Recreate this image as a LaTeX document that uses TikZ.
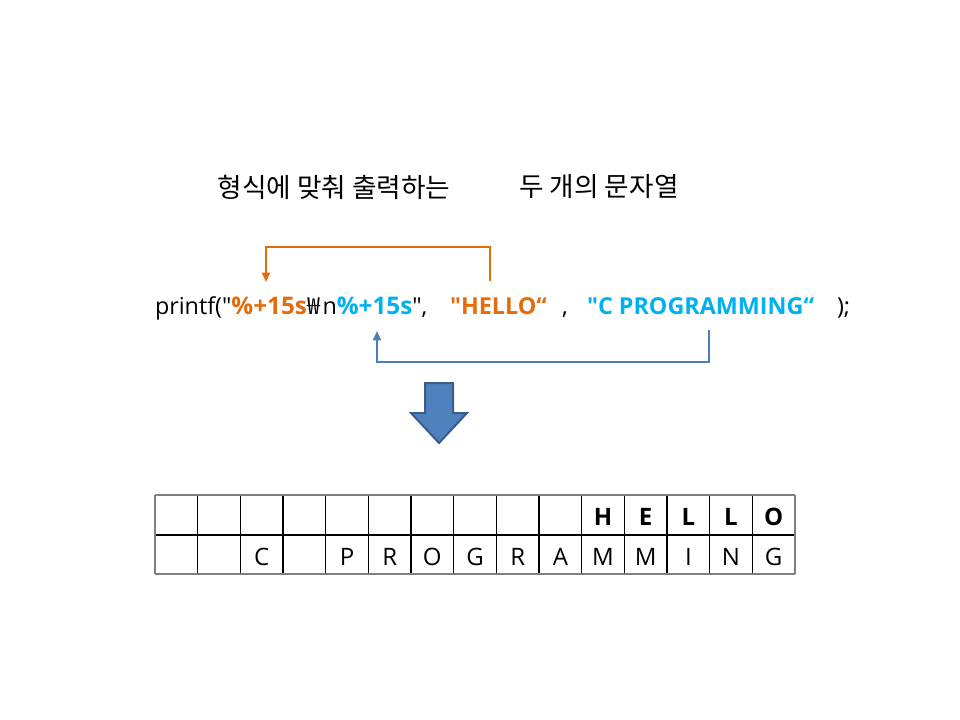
\documentclass[tikz,border=0pt]{standalone}
\usepackage{fontspec}
\setmainfont{Open Sans}[Ligatures=TeXOff]
\newfontfamily\kr{Noto Sans CJK KR}[Ligatures=TeXOff]
\usetikzlibrary{arrows.meta}
\definecolor{orangeT}{HTML}{E46C0A}
\definecolor{blueT}{HTML}{00B0F0}
\definecolor{blueL}{HTML}{4A7EBB}
\definecolor{arrFill}{HTML}{4F81BD}
\definecolor{arrLine}{HTML}{385D8A}
\definecolor{gridGray}{HTML}{7F7F7F}
\newcommand{\psz}{\fontsize{17.5}{21}\selectfont}
\newcommand{\bsz}{\fontsize{18.2}{21.8}\selectfont}
\begin{document}
\begin{tikzpicture}[x=0.75pt,y=-0.75pt,
  txt/.style={inner sep=0pt,outer sep=0pt,anchor=base west,font=\psz},
  ttl/.style={inner sep=0pt,anchor=center,font=\kr\fontsize{20}{24}\selectfont},
  cell/.style={inner sep=0pt,anchor=base,font=\fontsize{18}{21.6}\selectfont},
  oconn/.style={draw=orangeT,line width=1.5pt,-{Triangle[length=7pt,width=6pt]}},
  bconn/.style={draw=blueL,line width=1.5pt,-{Triangle[length=7pt,width=6pt]}},
  inner/.style={draw=black,line width=0.8pt},
  outer/.style={draw=gridGray,line width=1.6pt}]
\useasboundingbox (0,0) rectangle (960,720);

% titles
\node[ttl] (t1) at (334,187) {형식에 맞춰 출력하는};
\node[ttl] (t2) at (599,187) {두 개의 문자열};

% printf line
\node[txt] (p1) at (155,315) {printf("};
\node[txt,text=orangeT,font=\bsz\bfseries] (p2) at (p1.base east) {\%+15s};
\node[txt] (p3) at (p2.base east) {\kern0.5pt{\kr ₩}\kern1.5pt n};
\node[txt,text=blueT,font=\bsz\bfseries] (p4) at (p3.base east) {\%+15s};
\node[txt] (p5) at (p4.base east) {",};
\node[txt,text=orangeT,font=\psz\bfseries] (p6) at (450,315) {"HELLO“};
\node[txt] (p7) at (562,315) {,};
\node[txt,text=blueT,font=\psz\bfseries] (p8) at (587,315) {"C PROGRAMMING“};
\node[txt] (p9) at (837,315) {);};

% connectors
\coordinate (oS) at (490,281);
\coordinate (oE) at (266,282);
\draw[oconn] (oS) |- (378,247) -| (oE);
\coordinate (bS) at (709,330);
\coordinate (bE) at (377,331);
\draw[bconn] (bS) |- (543,362) -| (bE);

% big arrow
\filldraw[fill=arrFill,draw=arrLine,line width=1.5pt,line join=miter]
  (425,383) -- (453,383) -- (453,413) -- (467,413) -- (439,443) -- (411,413) -- (425,413) -- cycle;

% table
\foreach \i in {1,...,14}{
  \draw[inner] ({155+\i*42.667},495) -- ({155+\i*42.667},574);
}
\draw[inner] (155,535) -- (795,535);
\draw[outer] (155,495) -- (795,495);
\draw[outer,line width=2pt] (155,574) -- (795,574);
\draw[outer] (155,495) -- (155,574);
\draw[outer] (795,495) -- (795,574);

% row 1
\foreach \c/\l in {11/H,12/E,13/L,14/L,15/O}{
  \node[cell,font=\fontsize{18}{21.6}\selectfont\bfseries] (a\c) at ({155+(\c-0.5)*42.667},525) {\l};
}
% row 2
\foreach \c/\l in {3/C,5/P,6/R,7/O,8/G,9/R,10/A,11/M,12/M,13/I,14/N,15/G}{
  \node[cell] (b\c) at ({155+(\c-0.5)*42.667},565) {\l};
}
\end{tikzpicture}
\end{document}
